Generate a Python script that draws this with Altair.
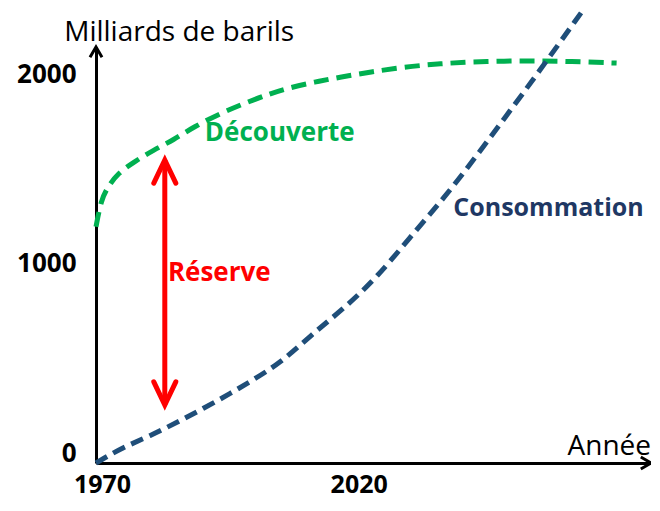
import altair as alt
import pandas as pd

# ---- data ----
decouverte_years = [1970, 1971.0, 1972.3, 1974.3, 1977.4, 1981.2, 1985.1, 1989.0, 1994.4, 1999.1,
                    2003.5, 2007.4, 2012.6, 2017.7, 2023.5, 2030.1, 2036.5, 2042.9, 2049.5, 2055.9,
                    2062.2, 2071.4]
decouverte_vals = [1250, 1392, 1460, 1534, 1593, 1656, 1709, 1778, 1852, 1905,
                   1950, 1984, 2016, 2042, 2069, 2095, 2112, 2122, 2127, 2127,
                   2125, 2116]

conso_years = [1970, 1975.0, 1980.3, 1986.7, 1993.3, 1999.6, 2006.0, 2012.0, 2018.4, 2024.8,
               2031.2, 2037.8, 2044.0, 2050.0, 2056.0, 2064.6]
conso_vals = [0, 80, 140, 228, 323, 423, 530, 680, 820, 984,
              1196, 1402, 1620, 1840, 2060, 2386]

y_ticks = [0, 1000, 2000]
x_ticks = [1970, 2020]
x_end = 2078.1
y_end = 2201

reserve_year = 1983.4
reserve_low = 307
reserve_high = 1603

label_texts = ["Milliards de barils", "Découverte", "Réserve", "Consommation", "Année"]
label_years = [1986.2, 1991.2, 1984.0, 2039.6, 2078.1]
label_vals = [2275, 1746, 1005, 1349, 85]

GREEN = "#00B050"
BLUE = "#1F4E79"
BLUE_TXT = "#1F3864"
RED = "#FF0000"
FONT = "Open Sans"

xs = alt.Scale(domain=[1970, x_end], nice=False, zero=False)
ys = alt.Scale(domain=[0, y_end], nice=False)

df_dec = pd.DataFrame({"year": decouverte_years, "val": decouverte_vals})
df_con = pd.DataFrame({"year": conso_years, "val": conso_vals})

base_x = alt.X("year:Q", scale=xs, title=None,
               axis=alt.Axis(values=x_ticks, format="d", domain=True, domainColor="black",
                             domainWidth=3, ticks=False, grid=False, labelFont=FONT,
                             labelFontSize=25, labelFontWeight="bold", labelColor="black",
                             labelPadding=9, labelOffset=6, labelFlush=False))
base_y = alt.Y("val:Q", scale=ys, title=None,
               axis=alt.Axis(values=y_ticks, format="d", domain=True, domainColor="black",
                             domainWidth=3, ticks=False, grid=False, labelFont=FONT,
                             labelFontSize=26, labelFontWeight="bold", labelColor="black",
                             labelPadding=20, labelOffset=-10, labelFlush=False))

dec = alt.Chart(df_dec).mark_line(color=GREEN, strokeWidth=5, strokeDash=[15, 8],
                                  interpolate="basis", clip=False).encode(x=base_x, y=base_y)
con = alt.Chart(df_con).mark_line(color=BLUE, strokeWidth=5, strokeDash=[13, 7],
                                  interpolate="basis", clip=False).encode(
    x=alt.X("year:Q", scale=xs), y=alt.Y("val:Q", scale=ys))

# axis arrowheads
df_yarrow = pd.DataFrame({"year": [1970], "val": [y_end]})
df_xarrow = pd.DataFrame({"year": [x_end], "val": [0]})
yarrow = alt.Chart(df_yarrow).mark_point(shape="M-1,1.7L0,0L1,1.7", size=144, filled=False,
                                         stroke="black", strokeWidth=3, opacity=1,
                                         clip=False).encode(
    x=alt.X("year:Q", scale=xs), y=alt.Y("val:Q", scale=ys))
xarrow = alt.Chart(df_xarrow).mark_point(shape="M-1.7,-1L0,0L-1.7,1", size=144, filled=False,
                                         stroke="black", strokeWidth=3, opacity=1,
                                         clip=False).encode(
    x=alt.X("year:Q", scale=xs), y=alt.Y("val:Q", scale=ys))

# reserve double arrow
df_res = pd.DataFrame({"year": [reserve_year], "lo": [reserve_low], "hi": [reserve_high]})
shaft = alt.Chart(df_res).mark_rule(color=RED, strokeWidth=5).encode(
    x=alt.X("year:Q", scale=xs), y=alt.Y("lo:Q", scale=ys), y2="hi:Q")
df_up = pd.DataFrame({"year": [reserve_year], "val": [reserve_high]})
df_dn = pd.DataFrame({"year": [reserve_year], "val": [reserve_low]})
up = alt.Chart(df_up).mark_point(shape="M-1,2.1L0,0L1,2.1", size=484, filled=False,
                                 stroke=RED, strokeWidth=5, opacity=1, strokeCap="round").encode(
    x=alt.X("year:Q", scale=xs), y=alt.Y("val:Q", scale=ys))
dn = alt.Chart(df_dn).mark_point(shape="M-1,-2.1L0,0L1,-2.1", size=484, filled=False,
                                 stroke=RED, strokeWidth=5, opacity=1, strokeCap="round").encode(
    x=alt.X("year:Q", scale=xs), y=alt.Y("val:Q", scale=ys))

# text annotations
styles = [
    dict(color="black", fontWeight="normal", fontSize=28, align="center"),
    dict(color=GREEN, fontWeight="bold", fontSize=26, align="left"),
    dict(color=RED, fontWeight="bold", fontSize=26, align="left"),
    dict(color=BLUE_TXT, fontWeight="bold", fontSize=25, align="left"),
    dict(color="black", fontWeight="normal", fontSize=28, align="right"),
]
texts = []
for t, yr, v, st in zip(label_texts, label_years, label_vals, styles):
    d = pd.DataFrame({"year": [yr], "val": [v], "t": [t]})
    texts.append(alt.Chart(d).mark_text(font=FONT, baseline="middle", clip=False, **st).encode(
        x=alt.X("year:Q", scale=xs), y=alt.Y("val:Q", scale=ys), text="t:N"))

chart = alt.layer(dec, con, shaft, up, dn, yarrow, xarrow, *texts).properties(
    width=555, height=416,
    autosize=alt.AutoSizeParams(type="none"),
    padding={"left": 88, "top": 39, "right": 0, "bottom": 40},
    background="white",
).configure_view(stroke=None)

chart.save("out.html", embed_options={"renderer": "svg", "actions": False})
